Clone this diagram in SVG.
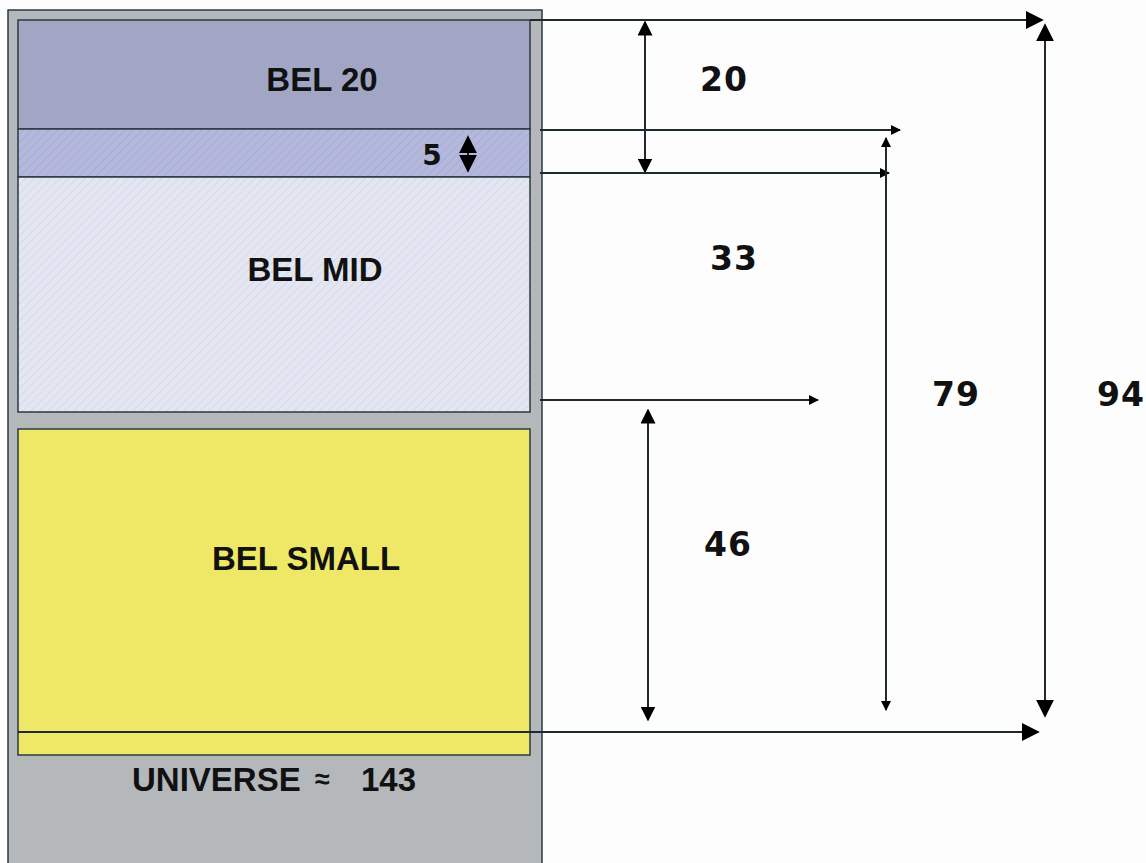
<svg xmlns="http://www.w3.org/2000/svg" width="1146" height="863" viewBox="0 0 1146 863">
<defs>
<style>
.lbl{font-family:"Liberation Sans",Arial,sans-serif;font-weight:bold;font-size:33px;fill:#111;text-anchor:middle}
.num{font-family:"DejaVu Sans",Verdana,sans-serif;font-weight:bold;font-size:33px;letter-spacing:1px;fill:#111;text-anchor:middle}
.ln{stroke:#1e2a30;stroke-width:2;fill:none}
.box{stroke:#2a3a40;stroke-width:1.5}
</style>
<pattern id="h1" width="6" height="6" patternUnits="userSpaceOnUse" patternTransform="rotate(45)">
<rect width="6" height="6" fill="#b3b8dc"/><line x1="0" y1="0" x2="0" y2="6" stroke="#a7acd2" stroke-width="2"/>
</pattern>
<pattern id="h2" width="6" height="6" patternUnits="userSpaceOnUse" patternTransform="rotate(45)">
<rect width="6" height="6" fill="#e4e6f2"/><line x1="0" y1="0" x2="0" y2="6" stroke="#d6d9eb" stroke-width="2"/>
</pattern>
<marker id="a" viewBox="0 0 10 10" refX="9" refY="5" markerWidth="10" markerHeight="10" markerUnits="userSpaceOnUse" orient="auto-start-reverse"><path d="M0,0L10,5L0,10Z" fill="#000"/></marker>
<marker id="b" viewBox="0 0 10 10" refX="9" refY="5" markerWidth="15" markerHeight="15" markerUnits="userSpaceOnUse" orient="auto-start-reverse"><path d="M0,0L10,5L0,10Z" fill="#000"/></marker>
<marker id="c" viewBox="0 0 10 10" refX="9" refY="5" markerWidth="18" markerHeight="18" markerUnits="userSpaceOnUse" orient="auto-start-reverse"><path d="M0,0L10,5L0,10Z" fill="#000"/></marker>
</defs>
<rect width="1146" height="863" fill="#fdfdfd"/>
<g id="universe">
<rect x="8" y="10" width="534" height="870" fill="#b5b8bb" class="box"/>
<text class="lbl" style="text-anchor:start" y="791"><tspan x="132">UNIVERSE</tspan><tspan x="315" y="788" style="font-size:27px">≈</tspan><tspan x="361" y="791">143</tspan></text>
</g>
<g id="bel20">
<rect x="18" y="20" width="512" height="109" fill="#a2a6c5" class="box"/>
<text class="lbl" x="322" y="91">BEL 20</text>
</g>
<g id="band5">
<rect x="18" y="129" width="512" height="48" fill="url(#h1)" class="box"/>
<text class="num" x="432" y="165" style="font-size:28px;letter-spacing:0">5</text>
</g>
<g id="belmid">
<rect x="18" y="177" width="512" height="235" fill="url(#h2)" class="box"/>
<text class="lbl" x="315" y="281">BEL MID</text>
</g>
<g id="belsmall">
<rect x="18" y="429" width="512" height="326" fill="#efe866" class="box"/>
<text class="lbl" x="306" y="570">BEL SMALL</text>
</g>
<g id="connectors">
<line class="ln" x1="530" y1="20" x2="1042" y2="20" marker-end="url(#c)"/>
<line class="ln" x1="645" y1="22" x2="645" y2="172" marker-start="url(#b)" marker-end="url(#b)"/>
<line class="ln" x1="540" y1="130" x2="900" y2="130" marker-end="url(#a)"/>
<line class="ln" x1="540" y1="173" x2="889" y2="173" marker-end="url(#a)"/>
<line class="ln" x1="886" y1="138" x2="886" y2="710" marker-start="url(#a)" marker-end="url(#a)"/>
<line class="ln" x1="540" y1="400" x2="818" y2="400" marker-end="url(#a)"/>
<line class="ln" x1="648" y1="410" x2="648" y2="720" marker-start="url(#b)" marker-end="url(#b)"/>
<line class="ln" x1="1045" y1="25" x2="1045" y2="716" marker-start="url(#c)" marker-end="url(#c)"/>
<line class="ln" x1="18" y1="732" x2="1038" y2="732" marker-end="url(#c)"/>
<line class="ln" x1="468" y1="137" x2="468" y2="171" marker-start="url(#c)" marker-end="url(#c)"/>
</g>
<g id="labels">
<text class="num" x="724" y="91">20</text>
<text class="num" x="734" y="270">33</text>
<text class="num" x="956" y="406">79</text>
<text class="num" x="1145" y="406" style="text-anchor:end">94</text>
<text class="num" x="728" y="556">46</text>
</g>
</svg>
